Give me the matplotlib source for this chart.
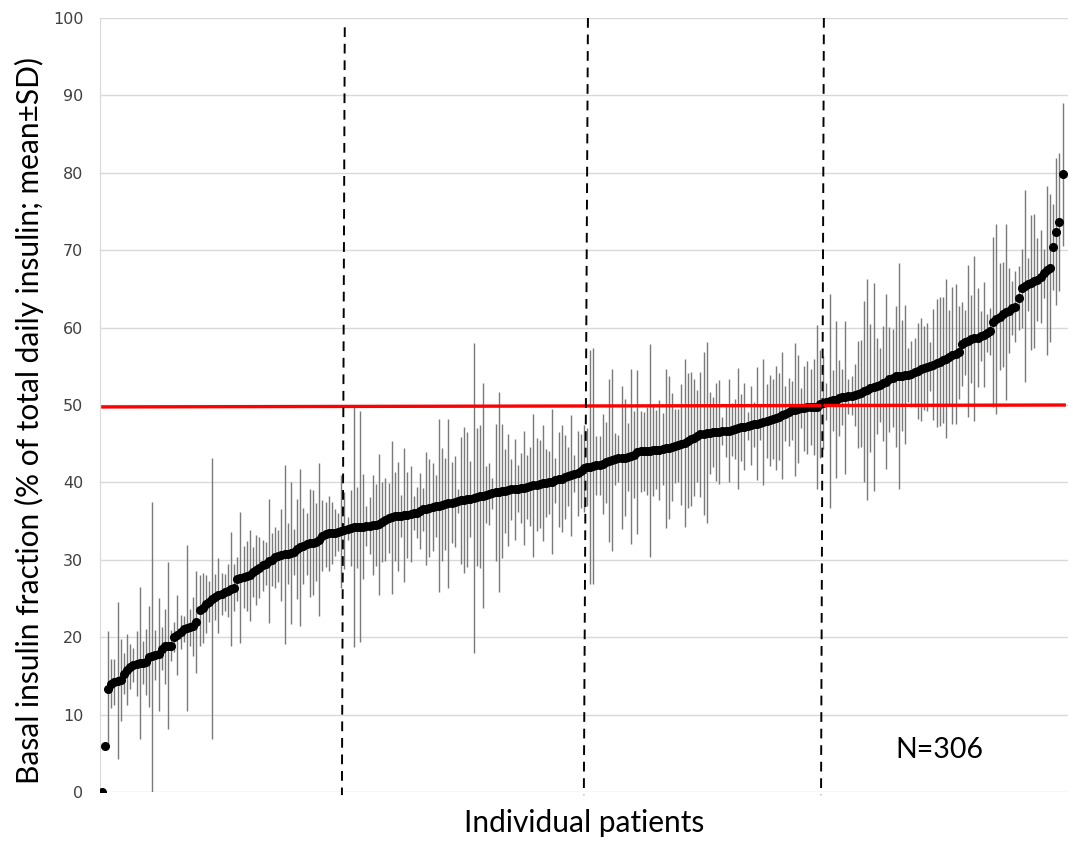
import numpy as np
import matplotlib.pyplot as plt

# mean basal fraction per patient (sorted)
means = [
    0.0, 6.0, 13.3, 14.0, 14.2, 14.4, 14.5, 15.3, 15.8, 16.2,
    16.4, 16.6, 16.7, 16.7, 16.8, 17.5, 17.6, 17.7, 17.8, 18.5,
    18.8, 18.9, 18.9, 20.0, 20.3, 20.7, 21.1, 21.2, 21.3, 21.4,
    22.0, 23.5, 23.8, 24.3, 24.6, 25.0, 25.2, 25.4, 25.6, 25.8,
    26.0, 26.2, 26.4, 27.5, 27.7, 27.8, 27.9, 28.0, 28.4, 28.7,
    29.0, 29.3, 29.5, 29.8, 30.0, 30.3, 30.5, 30.6, 30.7, 30.8,
    30.9, 31.0, 31.4, 31.6, 31.8, 32.0, 32.2, 32.2, 32.3, 32.6,
    33.1, 33.3, 33.4, 33.5, 33.5, 33.6, 33.7, 33.8, 34.0, 34.1,
    34.2, 34.2, 34.3, 34.3, 34.4, 34.4, 34.5, 34.5, 34.6, 34.9,
    35.2, 35.4, 35.5, 35.6, 35.6, 35.7, 35.8, 35.8, 35.9, 36.0,
    36.1, 36.3, 36.5, 36.6, 36.7, 36.8, 36.9, 37.0, 37.1, 37.2,
    37.3, 37.4, 37.5, 37.6, 37.7, 37.7, 37.8, 37.9, 38.0, 38.1,
    38.2, 38.3, 38.4, 38.5, 38.6, 38.7, 38.8, 38.9, 38.9, 39.0,
    39.1, 39.1, 39.2, 39.3, 39.3, 39.4, 39.5, 39.6, 39.7, 39.8,
    39.9, 39.9, 40.0, 40.1, 40.3, 40.4, 40.5, 40.7, 40.8, 40.9,
    41.1, 41.2, 41.5, 41.8, 42.0, 42.0, 42.1, 42.2, 42.2, 42.4,
    42.6, 42.8, 42.9, 43.0, 43.1, 43.2, 43.2, 43.3, 43.4, 43.6,
    43.9, 44.0, 44.0, 44.1, 44.1, 44.2, 44.2, 44.2, 44.3, 44.4,
    44.5, 44.6, 44.7, 44.8, 44.9, 45.1, 45.4, 45.6, 45.8, 46.0,
    46.2, 46.3, 46.4, 46.4, 46.5, 46.5, 46.5, 46.6, 46.6, 46.7,
    46.8, 46.9, 47.0, 47.1, 47.2, 47.3, 47.4, 47.5, 47.6, 47.7,
    47.8, 47.9, 48.0, 48.2, 48.3, 48.5, 48.7, 48.9, 49.1, 49.3,
    49.4, 49.5, 49.6, 49.6, 49.7, 49.7, 49.7, 49.8, 50.1, 50.3,
    50.4, 50.5, 50.6, 50.7, 50.9, 51.0, 51.0, 51.1, 51.2, 51.3,
    51.4, 51.5, 51.8, 52.0, 52.2, 52.3, 52.4, 52.6, 52.8, 53.0,
    53.3, 53.5, 53.7, 53.8, 53.8, 53.9, 53.9, 54.0, 54.2, 54.4,
    54.6, 54.8, 54.9, 55.0, 55.2, 55.4, 55.6, 55.8, 56.0, 56.2,
    56.4, 56.6, 56.8, 57.9, 58.1, 58.3, 58.5, 58.6, 58.7, 58.9,
    59.1, 59.3, 59.5, 60.7, 61.1, 61.4, 61.7, 62.0, 62.2, 62.5,
    62.7, 63.8, 65.1, 65.4, 65.6, 65.8, 66.0, 66.2, 66.6, 67.0,
    67.4, 67.7, 70.4, 72.4, 73.6, 79.8,
]

# standard deviation per patient
sds = [
    0.0, 0.0, 7.5, 3.2, 3.0, 10.2, 5.3, 2.7, 4.6, 2.9,
    2.2, 4.2, 9.8, 2.8, 4.3, 6.5, 19.9, 3.2, 7.3, 2.8,
    4.8, 10.8, 2.0, 1.9, 5.2, 2.2, 1.7, 10.7, 2.4, 3.8,
    6.6, 4.6, 4.5, 3.7, 2.6, 18.2, 3.0, 4.8, 2.7, 2.4,
    3.4, 7.4, 3.0, 2.8, 8.5, 4.0, 4.5, 5.9, 3.2, 4.5,
    3.9, 3.3, 2.8, 8.0, 3.4, 4.0, 3.4, 5.9, 11.6, 3.9,
    9.2, 3.0, 6.5, 10.1, 4.9, 4.0, 7.0, 6.8, 5.0, 9.9,
    4.6, 4.2, 4.8, 4.0, 3.0, 2.5, 7.3, 5.0, 1.5, 4.9,
    15.5, 5.2, 14.9, 6.8, 2.6, 3.7, 6.5, 5.3, 9.1, 5.2,
    5.4, 4.5, 9.9, 5.8, 7.0, 2.7, 8.7, 5.6, 6.2, 2.2,
    3.3, 4.9, 2.8, 7.3, 6.3, 5.7, 4.0, 11.2, 7.3, 5.9,
    10.9, 5.2, 5.9, 1.6, 8.2, 9.4, 8.7, 4.9, 20.0, 8.9,
    9.2, 14.5, 3.7, 4.0, 2.0, 8.9, 12.9, 8.7, 5.4, 7.2,
    3.9, 6.5, 3.0, 4.5, 7.4, 4.1, 5.1, 9.2, 6.0, 5.7,
    7.5, 4.4, 4.1, 9.4, 2.9, 6.1, 6.9, 5.4, 3.8, 7.8,
    2.4, 5.5, 4.8, 5.6, 5.0, 15.1, 15.2, 3.8, 3.8, 6.5,
    5.2, 10.5, 11.8, 3.4, 3.0, 9.2, 7.6, 4.4, 11.3, 5.6,
    10.6, 5.2, 5.1, 5.7, 13.8, 5.9, 5.1, 6.5, 4.7, 10.3,
    9.2, 7.0, 4.8, 4.7, 7.8, 10.9, 8.7, 8.6, 7.5, 6.0,
    8.1, 10.5, 11.7, 5.3, 4.5, 6.3, 6.7, 1.8, 3.3, 6.7,
    3.4, 3.9, 7.8, 4.3, 5.6, 1.8, 5.1, 2.9, 7.3, 2.2,
    8.2, 4.8, 5.9, 5.2, 6.7, 5.6, 8.2, 3.6, 4.4, 3.8,
    8.6, 7.0, 2.6, 5.5, 6.0, 4.9, 6.2, 10.6, 7.0, 6.0,
    2.4, 13.8, 3.9, 10.1, 4.9, 3.6, 9.9, 2.3, 2.5, 4.0,
    6.9, 6.9, 11.7, 14.3, 8.3, 13.4, 6.2, 4.8, 7.4, 11.3,
    6.8, 6.3, 9.1, 14.6, 7.2, 9.0, 3.5, 4.3, 4.4, 6.2,
    6.7, 5.4, 5.7, 3.2, 7.2, 8.3, 8.3, 8.1, 10.3, 6.1,
    8.9, 9.0, 6.0, 5.4, 4.2, 9.8, 5.7, 10.7, 6.4, 3.2,
    6.8, 2.4, 3.0, 11.0, 12.3, 6.9, 6.8, 11.4, 5.5, 3.5,
    4.6, 4.1, 5.1, 12.4, 3.4, 8.7, 8.7, 5.4, 6.0, 3.2,
    10.9, 9.6, 5.6, 9.5, 8.9, 9.2,
]

# quartile separators (top x, bottom x, top y) and the overall mean line
quartile_lines = [(77.1, 76.2, 98.8), (154.3, 153.0, 100.0), (229.2, 228.3, 100.0)]
mean_line = (49.75, 50.0)
yticks = list(range(0, 101, 10))

x = np.arange(len(means))

fig = plt.figure(figsize=(10.73, 8.46), dpi=100)
ax = fig.add_axes([100 / 1073, 54 / 846, 968 / 1073, 774 / 846])

ax.errorbar(x, means, yerr=sds, fmt='none', ecolor='#7a7a7a', elinewidth=1.0, zorder=2)
ax.plot(x, means, 'o', color='black', ms=5.5, zorder=4)

ax.plot([0.3, 305.5], mean_line, color='red', lw=2.4, zorder=5)

for xt, xb, ytop in quartile_lines:
    ax.plot([xt, xb], [ytop, -0.4], color='black', lw=1.4, ls=(0, (5, 3.5)),
            zorder=6, clip_on=False)

ax.set_xlim(-0.6, 306.7)
ax.set_ylim(0, 100)
ax.set_yticks(yticks)
ax.set_xticks([])
ax.grid(axis='y', color='#d9d9d9', lw=1)
ax.set_axisbelow(True)
for s in ['top', 'right', 'bottom']:
    ax.spines[s].set_visible(False)
ax.spines['left'].set_color('#d9d9d9')
ax.tick_params(axis='y', length=0, pad=12, labelsize=11.5, labelcolor='#404040')

ax.set_ylabel('Basal insulin fraction (% of total daily insulin; mean\u00b1SD)',
              fontsize=21.5, family='Lato')
ax.yaxis.set_label_coords(-0.058, 0.48)
ax.set_xlabel('Individual patients', fontsize=21.5, family='Lato', labelpad=12)
ax.text(266, 5.4, 'N=306', fontsize=20.5, family='Lato', ha='center', va='center')

fig.savefig('out.png', dpi=100)
